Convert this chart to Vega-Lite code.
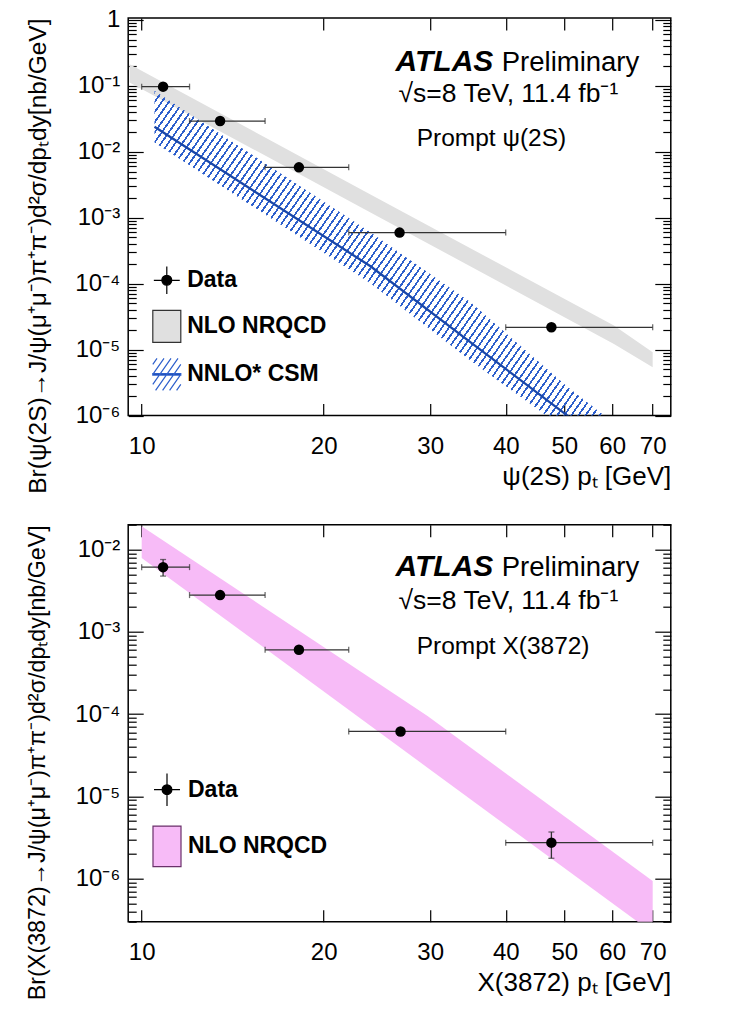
{
  "$schema": "https://vega.github.io/schema/vega-lite/v6.json",
  "background": "white",
  "padding": {"left": 24.2, "top": 6, "right": 10, "bottom": 5},
  "config": {
    "font": "Liberation Sans",
    "view": {"stroke": "black", "strokeWidth": 1.5},
    "axis": {"labelFont": "Liberation Sans", "titleFont": "Liberation Sans", "labelColor": "black", "titleColor": "black", "tickColor": "black", "domain": false, "grid": false}
  },
  "datasets": {
    "psi_data": [
      {"pt": 10.85, "lo": 10, "hi": 12, "y": 0.0966, "series": "Data"},
      {"pt": 13.48, "lo": 12, "hi": 16, "y": 0.0291, "series": "Data"},
      {"pt": 18.2, "lo": 16, "hi": 22, "y": 0.00578, "series": "Data"},
      {"pt": 26.7, "lo": 22, "hi": 40, "y": 0.000593, "series": "Data"},
      {"pt": 47.6, "lo": 40, "hi": 70, "y": 0.0000218, "series": "Data"}
    ],
    "psi_nrqcd": [
      {"pt": 9.55, "lo": 0.112, "hi": 0.212},
      {"pt": 23.9, "lo": 0.0012, "hi": 0.00225},
      {"pt": 60.4, "lo": 0.0000122, "hi": 0.0000231},
      {"pt": 70, "lo": 0.0000054, "hi": 0.0000091}
    ],
    "psi_csm": [
      {"pt": 10.5, "lo": 0.0138, "mid": 0.0239, "hi": 0.084},
      {"pt": 23.9, "lo": 0.000101, "mid": 0.000183, "hi": 0.000598},
      {"pt": 35.0, "lo": 0.0000068, "mid": 0.0000129, "hi": 0.000052},
      {"pt": 50.6, "lo": 0.00000059, "mid": 0.000001, "hi": 0.00000273},
      {"pt": 58.2, "lo": 0.00000023, "mid": 0.00000038, "hi": 0.000001}
    ],
    "x_data": [
      {"pt": 10.85, "lo": 10, "hi": 12, "y": 0.0061, "ylo": 0.00475, "yhi": 0.00755, "series": "Data"},
      {"pt": 13.48, "lo": 12, "hi": 16, "y": 0.00279, "ylo": 0.0026, "yhi": 0.003, "series": "Data"},
      {"pt": 18.2, "lo": 16, "hi": 22, "y": 0.000604, "ylo": 0.00057, "yhi": 0.00064, "series": "Data"},
      {"pt": 26.8, "lo": 22, "hi": 40, "y": 0.0000615, "ylo": 0.000058, "yhi": 0.000065, "series": "Data"},
      {"pt": 47.6, "lo": 40, "hi": 70, "y": 0.00000274, "ylo": 0.00000177, "yhi": 0.00000369, "series": "Data"}
    ],
    "x_nrqcd": [
      {"pt": 10, "lo": 0.0079, "hi": 0.0192},
      {"pt": 29.7, "lo": 0.0000223, "hi": 0.0000946},
      {"pt": 70, "lo": 0.00000022, "hi": 0.00000094}
    ]
  },
  "spacing": 108.7,
  "bounds": "flush",
  "resolve": {"scale": {"shape": "independent", "fill": "independent", "stroke": "independent"}, "legend": {"shape": "independent", "fill": "independent", "stroke": "independent"}},
  "vconcat": [
    {
      "width": 542.6,
      "height": 397.6,
      "resolve": {"axis": {"x": "independent", "y": "independent"}},
      "layer": [
        {
          "data": {"name": "psi_nrqcd"},
          "mark": {"type": "area", "fill": "#e0e0e0", "clip": true},
          "encoding": {
            "x": {"field": "pt", "type": "quantitative", "scale": {"type": "log", "domain": [9.5, 75], "nice": false},
              "axis": {"orient": "bottom", "values": [10, 20, 30, 40, 50, 60, 70], "labelExpr": "format(datum.value, 'd')", "tickSize": -12, "tickWidth": 1.2, "labelFontSize": 24, "labelPadding": 31, "labelOverlap": false, "labelFlush": false, "title": "ψ(2S) pₜ [GeV]", "titleFontSize": 26, "titleFontWeight": "normal", "titleAnchor": "end", "titlePadding": 5}},
            "y": {"field": "lo", "type": "quantitative", "scale": {"type": "log", "domain": [0.000001, 1.06], "nice": false},
              "axis": {"orient": "left", "values": [0.000001,0.000002,0.000003,0.000004,0.000005,0.000006,0.000007,0.000008,0.000009,0.00001,0.00002,0.00003,0.00004,0.00005,0.00006,0.00007,0.00008,0.00009,0.0001,0.0002,0.0003,0.0004,0.0005,0.0006,0.0007,0.0008,0.0009,0.001,0.002,0.003,0.004,0.005,0.006,0.007,0.008,0.009,0.01,0.02,0.03,0.04,0.05,0.06,0.07,0.08,0.09,0.1,0.2,0.3,0.4,0.5,0.6,0.7,0.8,0.9,1],
                "labelExpr": "abs(log(datum.value)/LN10 - round(log(datum.value)/LN10)) < 0.01 ? ['1','10⁻¹','10⁻²','10⁻³','10⁻⁴','10⁻⁵','10⁻⁶','10⁻⁷'][-round(log(datum.value)/LN10)] : ''",
                "tickSize": {"condition": {"test": "abs(log(datum.value)/LN10 - round(log(datum.value)/LN10)) < 0.01", "value": -15}, "value": -8},
                "tickWidth": 1.2, "labelFontSize": 24, "labelPadding": 23.4, "labelOverlap": false, "labelFlush": false,
                "title": "Br(ψ(2S)→J/ψ(μ⁺μ⁻)π⁺π⁻)d²σ/dpₜdy[nb/GeV]", "titleFontSize": 24.5, "titleFontWeight": "normal", "titleAnchor": "end", "titlePadding": 24}},
            "y2": {"field": "hi"}
          }
        },
        {
          "data": {"name": "psi_csm"},
          "mark": {"type": "area", "clip": true, "fill": {"gradient": "linear", "x1": 0, "y1": 0, "x2": 1.1846, "y2": 0.6771, "stops": [
{"offset":0,"color":"transparent"},{"offset":0,"color":"#2d5fcc"},{"offset":0.003,"color":"#2d5fcc"},{"offset":0.003,"color":"transparent"},
{"offset":0.01,"color":"transparent"},{"offset":0.01,"color":"#2d5fcc"},{"offset":0.013,"color":"#2d5fcc"},{"offset":0.013,"color":"transparent"},
{"offset":0.02,"color":"transparent"},{"offset":0.02,"color":"#2d5fcc"},{"offset":0.023,"color":"#2d5fcc"},{"offset":0.023,"color":"transparent"},
{"offset":0.03,"color":"transparent"},{"offset":0.03,"color":"#2d5fcc"},{"offset":0.033,"color":"#2d5fcc"},{"offset":0.033,"color":"transparent"},
{"offset":0.04,"color":"transparent"},{"offset":0.04,"color":"#2d5fcc"},{"offset":0.043,"color":"#2d5fcc"},{"offset":0.043,"color":"transparent"},
{"offset":0.05,"color":"transparent"},{"offset":0.05,"color":"#2d5fcc"},{"offset":0.053,"color":"#2d5fcc"},{"offset":0.053,"color":"transparent"},
{"offset":0.06,"color":"transparent"},{"offset":0.06,"color":"#2d5fcc"},{"offset":0.063,"color":"#2d5fcc"},{"offset":0.063,"color":"transparent"},
{"offset":0.07,"color":"transparent"},{"offset":0.07,"color":"#2d5fcc"},{"offset":0.073,"color":"#2d5fcc"},{"offset":0.073,"color":"transparent"},
{"offset":0.08,"color":"transparent"},{"offset":0.08,"color":"#2d5fcc"},{"offset":0.083,"color":"#2d5fcc"},{"offset":0.083,"color":"transparent"},
{"offset":0.09,"color":"transparent"},{"offset":0.09,"color":"#2d5fcc"},{"offset":0.093,"color":"#2d5fcc"},{"offset":0.093,"color":"transparent"},
{"offset":0.10,"color":"transparent"},{"offset":0.10,"color":"#2d5fcc"},{"offset":0.103,"color":"#2d5fcc"},{"offset":0.103,"color":"transparent"},
{"offset":0.11,"color":"transparent"},{"offset":0.11,"color":"#2d5fcc"},{"offset":0.113,"color":"#2d5fcc"},{"offset":0.113,"color":"transparent"},
{"offset":0.12,"color":"transparent"},{"offset":0.12,"color":"#2d5fcc"},{"offset":0.123,"color":"#2d5fcc"},{"offset":0.123,"color":"transparent"},
{"offset":0.13,"color":"transparent"},{"offset":0.13,"color":"#2d5fcc"},{"offset":0.133,"color":"#2d5fcc"},{"offset":0.133,"color":"transparent"},
{"offset":0.14,"color":"transparent"},{"offset":0.14,"color":"#2d5fcc"},{"offset":0.143,"color":"#2d5fcc"},{"offset":0.143,"color":"transparent"},
{"offset":0.15,"color":"transparent"},{"offset":0.15,"color":"#2d5fcc"},{"offset":0.153,"color":"#2d5fcc"},{"offset":0.153,"color":"transparent"},
{"offset":0.16,"color":"transparent"},{"offset":0.16,"color":"#2d5fcc"},{"offset":0.163,"color":"#2d5fcc"},{"offset":0.163,"color":"transparent"},
{"offset":0.17,"color":"transparent"},{"offset":0.17,"color":"#2d5fcc"},{"offset":0.173,"color":"#2d5fcc"},{"offset":0.173,"color":"transparent"},
{"offset":0.18,"color":"transparent"},{"offset":0.18,"color":"#2d5fcc"},{"offset":0.183,"color":"#2d5fcc"},{"offset":0.183,"color":"transparent"},
{"offset":0.19,"color":"transparent"},{"offset":0.19,"color":"#2d5fcc"},{"offset":0.193,"color":"#2d5fcc"},{"offset":0.193,"color":"transparent"},
{"offset":0.20,"color":"transparent"},{"offset":0.20,"color":"#2d5fcc"},{"offset":0.203,"color":"#2d5fcc"},{"offset":0.203,"color":"transparent"},
{"offset":0.21,"color":"transparent"},{"offset":0.21,"color":"#2d5fcc"},{"offset":0.213,"color":"#2d5fcc"},{"offset":0.213,"color":"transparent"},
{"offset":0.22,"color":"transparent"},{"offset":0.22,"color":"#2d5fcc"},{"offset":0.223,"color":"#2d5fcc"},{"offset":0.223,"color":"transparent"},
{"offset":0.23,"color":"transparent"},{"offset":0.23,"color":"#2d5fcc"},{"offset":0.233,"color":"#2d5fcc"},{"offset":0.233,"color":"transparent"},
{"offset":0.24,"color":"transparent"},{"offset":0.24,"color":"#2d5fcc"},{"offset":0.243,"color":"#2d5fcc"},{"offset":0.243,"color":"transparent"},
{"offset":0.25,"color":"transparent"},{"offset":0.25,"color":"#2d5fcc"},{"offset":0.253,"color":"#2d5fcc"},{"offset":0.253,"color":"transparent"},
{"offset":0.26,"color":"transparent"},{"offset":0.26,"color":"#2d5fcc"},{"offset":0.263,"color":"#2d5fcc"},{"offset":0.263,"color":"transparent"},
{"offset":0.27,"color":"transparent"},{"offset":0.27,"color":"#2d5fcc"},{"offset":0.273,"color":"#2d5fcc"},{"offset":0.273,"color":"transparent"},
{"offset":0.28,"color":"transparent"},{"offset":0.28,"color":"#2d5fcc"},{"offset":0.283,"color":"#2d5fcc"},{"offset":0.283,"color":"transparent"},
{"offset":0.29,"color":"transparent"},{"offset":0.29,"color":"#2d5fcc"},{"offset":0.293,"color":"#2d5fcc"},{"offset":0.293,"color":"transparent"},
{"offset":0.30,"color":"transparent"},{"offset":0.30,"color":"#2d5fcc"},{"offset":0.303,"color":"#2d5fcc"},{"offset":0.303,"color":"transparent"},
{"offset":0.31,"color":"transparent"},{"offset":0.31,"color":"#2d5fcc"},{"offset":0.313,"color":"#2d5fcc"},{"offset":0.313,"color":"transparent"},
{"offset":0.32,"color":"transparent"},{"offset":0.32,"color":"#2d5fcc"},{"offset":0.323,"color":"#2d5fcc"},{"offset":0.323,"color":"transparent"},
{"offset":0.33,"color":"transparent"},{"offset":0.33,"color":"#2d5fcc"},{"offset":0.333,"color":"#2d5fcc"},{"offset":0.333,"color":"transparent"},
{"offset":0.34,"color":"transparent"},{"offset":0.34,"color":"#2d5fcc"},{"offset":0.343,"color":"#2d5fcc"},{"offset":0.343,"color":"transparent"},
{"offset":0.35,"color":"transparent"},{"offset":0.35,"color":"#2d5fcc"},{"offset":0.353,"color":"#2d5fcc"},{"offset":0.353,"color":"transparent"},
{"offset":0.36,"color":"transparent"},{"offset":0.36,"color":"#2d5fcc"},{"offset":0.363,"color":"#2d5fcc"},{"offset":0.363,"color":"transparent"},
{"offset":0.37,"color":"transparent"},{"offset":0.37,"color":"#2d5fcc"},{"offset":0.373,"color":"#2d5fcc"},{"offset":0.373,"color":"transparent"},
{"offset":0.38,"color":"transparent"},{"offset":0.38,"color":"#2d5fcc"},{"offset":0.383,"color":"#2d5fcc"},{"offset":0.383,"color":"transparent"},
{"offset":0.39,"color":"transparent"},{"offset":0.39,"color":"#2d5fcc"},{"offset":0.393,"color":"#2d5fcc"},{"offset":0.393,"color":"transparent"},
{"offset":0.40,"color":"transparent"},{"offset":0.40,"color":"#2d5fcc"},{"offset":0.403,"color":"#2d5fcc"},{"offset":0.403,"color":"transparent"},
{"offset":0.41,"color":"transparent"},{"offset":0.41,"color":"#2d5fcc"},{"offset":0.413,"color":"#2d5fcc"},{"offset":0.413,"color":"transparent"},
{"offset":0.42,"color":"transparent"},{"offset":0.42,"color":"#2d5fcc"},{"offset":0.423,"color":"#2d5fcc"},{"offset":0.423,"color":"transparent"},
{"offset":0.43,"color":"transparent"},{"offset":0.43,"color":"#2d5fcc"},{"offset":0.433,"color":"#2d5fcc"},{"offset":0.433,"color":"transparent"},
{"offset":0.44,"color":"transparent"},{"offset":0.44,"color":"#2d5fcc"},{"offset":0.443,"color":"#2d5fcc"},{"offset":0.443,"color":"transparent"},
{"offset":0.45,"color":"transparent"},{"offset":0.45,"color":"#2d5fcc"},{"offset":0.453,"color":"#2d5fcc"},{"offset":0.453,"color":"transparent"},
{"offset":0.46,"color":"transparent"},{"offset":0.46,"color":"#2d5fcc"},{"offset":0.463,"color":"#2d5fcc"},{"offset":0.463,"color":"transparent"},
{"offset":0.47,"color":"transparent"},{"offset":0.47,"color":"#2d5fcc"},{"offset":0.473,"color":"#2d5fcc"},{"offset":0.473,"color":"transparent"},
{"offset":0.48,"color":"transparent"},{"offset":0.48,"color":"#2d5fcc"},{"offset":0.483,"color":"#2d5fcc"},{"offset":0.483,"color":"transparent"},
{"offset":0.49,"color":"transparent"},{"offset":0.49,"color":"#2d5fcc"},{"offset":0.493,"color":"#2d5fcc"},{"offset":0.493,"color":"transparent"},
{"offset":0.50,"color":"transparent"},{"offset":0.50,"color":"#2d5fcc"},{"offset":0.503,"color":"#2d5fcc"},{"offset":0.503,"color":"transparent"},
{"offset":0.51,"color":"transparent"},{"offset":0.51,"color":"#2d5fcc"},{"offset":0.513,"color":"#2d5fcc"},{"offset":0.513,"color":"transparent"},
{"offset":0.52,"color":"transparent"},{"offset":0.52,"color":"#2d5fcc"},{"offset":0.523,"color":"#2d5fcc"},{"offset":0.523,"color":"transparent"},
{"offset":0.53,"color":"transparent"},{"offset":0.53,"color":"#2d5fcc"},{"offset":0.533,"color":"#2d5fcc"},{"offset":0.533,"color":"transparent"},
{"offset":0.54,"color":"transparent"},{"offset":0.54,"color":"#2d5fcc"},{"offset":0.543,"color":"#2d5fcc"},{"offset":0.543,"color":"transparent"},
{"offset":0.55,"color":"transparent"},{"offset":0.55,"color":"#2d5fcc"},{"offset":0.553,"color":"#2d5fcc"},{"offset":0.553,"color":"transparent"},
{"offset":0.56,"color":"transparent"},{"offset":0.56,"color":"#2d5fcc"},{"offset":0.563,"color":"#2d5fcc"},{"offset":0.563,"color":"transparent"},
{"offset":0.57,"color":"transparent"},{"offset":0.57,"color":"#2d5fcc"},{"offset":0.573,"color":"#2d5fcc"},{"offset":0.573,"color":"transparent"},
{"offset":0.58,"color":"transparent"},{"offset":0.58,"color":"#2d5fcc"},{"offset":0.583,"color":"#2d5fcc"},{"offset":0.583,"color":"transparent"},
{"offset":0.59,"color":"transparent"},{"offset":0.59,"color":"#2d5fcc"},{"offset":0.593,"color":"#2d5fcc"},{"offset":0.593,"color":"transparent"},
{"offset":0.60,"color":"transparent"},{"offset":0.60,"color":"#2d5fcc"},{"offset":0.603,"color":"#2d5fcc"},{"offset":0.603,"color":"transparent"},
{"offset":0.61,"color":"transparent"},{"offset":0.61,"color":"#2d5fcc"},{"offset":0.613,"color":"#2d5fcc"},{"offset":0.613,"color":"transparent"},
{"offset":0.62,"color":"transparent"},{"offset":0.62,"color":"#2d5fcc"},{"offset":0.623,"color":"#2d5fcc"},{"offset":0.623,"color":"transparent"},
{"offset":0.63,"color":"transparent"},{"offset":0.63,"color":"#2d5fcc"},{"offset":0.633,"color":"#2d5fcc"},{"offset":0.633,"color":"transparent"},
{"offset":0.64,"color":"transparent"},{"offset":0.64,"color":"#2d5fcc"},{"offset":0.643,"color":"#2d5fcc"},{"offset":0.643,"color":"transparent"},
{"offset":0.65,"color":"transparent"},{"offset":0.65,"color":"#2d5fcc"},{"offset":0.653,"color":"#2d5fcc"},{"offset":0.653,"color":"transparent"},
{"offset":0.66,"color":"transparent"},{"offset":0.66,"color":"#2d5fcc"},{"offset":0.663,"color":"#2d5fcc"},{"offset":0.663,"color":"transparent"},
{"offset":0.67,"color":"transparent"},{"offset":0.67,"color":"#2d5fcc"},{"offset":0.673,"color":"#2d5fcc"},{"offset":0.673,"color":"transparent"},
{"offset":0.68,"color":"transparent"},{"offset":0.68,"color":"#2d5fcc"},{"offset":0.683,"color":"#2d5fcc"},{"offset":0.683,"color":"transparent"},
{"offset":0.69,"color":"transparent"},{"offset":0.69,"color":"#2d5fcc"},{"offset":0.693,"color":"#2d5fcc"},{"offset":0.693,"color":"transparent"},
{"offset":0.70,"color":"transparent"},{"offset":0.70,"color":"#2d5fcc"},{"offset":0.703,"color":"#2d5fcc"},{"offset":0.703,"color":"transparent"},
{"offset":0.71,"color":"transparent"},{"offset":0.71,"color":"#2d5fcc"},{"offset":0.713,"color":"#2d5fcc"},{"offset":0.713,"color":"transparent"},
{"offset":0.72,"color":"transparent"},{"offset":0.72,"color":"#2d5fcc"},{"offset":0.723,"color":"#2d5fcc"},{"offset":0.723,"color":"transparent"},
{"offset":0.73,"color":"transparent"},{"offset":0.73,"color":"#2d5fcc"},{"offset":0.733,"color":"#2d5fcc"},{"offset":0.733,"color":"transparent"},
{"offset":0.74,"color":"transparent"},{"offset":0.74,"color":"#2d5fcc"},{"offset":0.743,"color":"#2d5fcc"},{"offset":0.743,"color":"transparent"},
{"offset":0.75,"color":"transparent"},{"offset":0.75,"color":"#2d5fcc"},{"offset":0.753,"color":"#2d5fcc"},{"offset":0.753,"color":"transparent"},
{"offset":0.76,"color":"transparent"},{"offset":0.76,"color":"#2d5fcc"},{"offset":0.763,"color":"#2d5fcc"},{"offset":0.763,"color":"transparent"},
{"offset":0.77,"color":"transparent"},{"offset":0.77,"color":"#2d5fcc"},{"offset":0.773,"color":"#2d5fcc"},{"offset":0.773,"color":"transparent"},
{"offset":0.78,"color":"transparent"},{"offset":0.78,"color":"#2d5fcc"},{"offset":0.783,"color":"#2d5fcc"},{"offset":0.783,"color":"transparent"},
{"offset":0.79,"color":"transparent"},{"offset":0.79,"color":"#2d5fcc"},{"offset":0.793,"color":"#2d5fcc"},{"offset":0.793,"color":"transparent"},
{"offset":0.80,"color":"transparent"},{"offset":0.80,"color":"#2d5fcc"},{"offset":0.803,"color":"#2d5fcc"},{"offset":0.803,"color":"transparent"},
{"offset":0.81,"color":"transparent"},{"offset":0.81,"color":"#2d5fcc"},{"offset":0.813,"color":"#2d5fcc"},{"offset":0.813,"color":"transparent"},
{"offset":0.82,"color":"transparent"},{"offset":0.82,"color":"#2d5fcc"},{"offset":0.823,"color":"#2d5fcc"},{"offset":0.823,"color":"transparent"},
{"offset":0.83,"color":"transparent"},{"offset":0.83,"color":"#2d5fcc"},{"offset":0.833,"color":"#2d5fcc"},{"offset":0.833,"color":"transparent"},
{"offset":0.84,"color":"transparent"},{"offset":0.84,"color":"#2d5fcc"},{"offset":0.843,"color":"#2d5fcc"},{"offset":0.843,"color":"transparent"},
{"offset":0.85,"color":"transparent"},{"offset":0.85,"color":"#2d5fcc"},{"offset":0.853,"color":"#2d5fcc"},{"offset":0.853,"color":"transparent"},
{"offset":0.86,"color":"transparent"},{"offset":0.86,"color":"#2d5fcc"},{"offset":0.863,"color":"#2d5fcc"},{"offset":0.863,"color":"transparent"},
{"offset":0.87,"color":"transparent"},{"offset":0.87,"color":"#2d5fcc"},{"offset":0.873,"color":"#2d5fcc"},{"offset":0.873,"color":"transparent"},
{"offset":0.88,"color":"transparent"},{"offset":0.88,"color":"#2d5fcc"},{"offset":0.883,"color":"#2d5fcc"},{"offset":0.883,"color":"transparent"},
{"offset":0.89,"color":"transparent"},{"offset":0.89,"color":"#2d5fcc"},{"offset":0.893,"color":"#2d5fcc"},{"offset":0.893,"color":"transparent"},
{"offset":0.90,"color":"transparent"},{"offset":0.90,"color":"#2d5fcc"},{"offset":0.903,"color":"#2d5fcc"},{"offset":0.903,"color":"transparent"},
{"offset":0.91,"color":"transparent"},{"offset":0.91,"color":"#2d5fcc"},{"offset":0.913,"color":"#2d5fcc"},{"offset":0.913,"color":"transparent"},
{"offset":0.92,"color":"transparent"},{"offset":0.92,"color":"#2d5fcc"},{"offset":0.923,"color":"#2d5fcc"},{"offset":0.923,"color":"transparent"},
{"offset":0.93,"color":"transparent"},{"offset":0.93,"color":"#2d5fcc"},{"offset":0.933,"color":"#2d5fcc"},{"offset":0.933,"color":"transparent"},
{"offset":0.94,"color":"transparent"},{"offset":0.94,"color":"#2d5fcc"},{"offset":0.943,"color":"#2d5fcc"},{"offset":0.943,"color":"transparent"},
{"offset":0.95,"color":"transparent"},{"offset":0.95,"color":"#2d5fcc"},{"offset":0.953,"color":"#2d5fcc"},{"offset":0.953,"color":"transparent"},
{"offset":0.96,"color":"transparent"},{"offset":0.96,"color":"#2d5fcc"},{"offset":0.963,"color":"#2d5fcc"},{"offset":0.963,"color":"transparent"},
{"offset":0.97,"color":"transparent"},{"offset":0.97,"color":"#2d5fcc"},{"offset":0.973,"color":"#2d5fcc"},{"offset":0.973,"color":"transparent"},
{"offset":0.98,"color":"transparent"},{"offset":0.98,"color":"#2d5fcc"},{"offset":0.983,"color":"#2d5fcc"},{"offset":0.983,"color":"transparent"},
{"offset":0.99,"color":"transparent"},{"offset":0.99,"color":"#2d5fcc"},{"offset":0.993,"color":"#2d5fcc"},{"offset":0.993,"color":"transparent"}
          ]}},
          "encoding": {
            "x": {"field": "pt", "type": "quantitative", "scale": {"type": "log", "domain": [9.5, 75], "nice": false}, "axis": null},
            "y": {"field": "lo", "type": "quantitative", "scale": {"type": "log", "domain": [0.000001, 1.06], "nice": false}, "axis": null},
            "y2": {"field": "hi"}
          }
        },
        {
          "data": {"name": "psi_csm"},
          "mark": {"type": "line", "color": "#1a47a8", "strokeWidth": 2.3, "clip": true},
          "encoding": {
            "x": {"field": "pt", "type": "quantitative", "scale": {"type": "log", "domain": [9.5, 75], "nice": false}, "axis": null},
            "y": {"field": "mid", "type": "quantitative", "scale": {"type": "log", "domain": [0.000001, 1.06], "nice": false}, "axis": null}
          }
        },
        {
          "data": {"name": "psi_data"},
          "mark": {"type": "rule", "color": "#333333", "strokeWidth": 1.3},
          "encoding": {
            "x": {"field": "lo", "type": "quantitative", "scale": {"type": "log", "domain": [9.5, 75], "nice": false}, "axis": null},
            "x2": {"field": "hi"},
            "y": {"field": "y", "type": "quantitative", "scale": {"type": "log", "domain": [0.000001, 1.06], "nice": false}, "axis": null}
          }
        },
        {
          "data": {"name": "psi_data"},
          "mark": {"type": "tick", "orient": "vertical", "size": 6, "thickness": 1.3, "color": "#333333"},
          "encoding": {
            "x": {"field": "lo", "type": "quantitative", "scale": {"type": "log", "domain": [9.5, 75], "nice": false}, "axis": null},
            "y": {"field": "y", "type": "quantitative", "scale": {"type": "log", "domain": [0.000001, 1.06], "nice": false}, "axis": null}
          }
        },
        {
          "data": {"name": "psi_data"},
          "mark": {"type": "tick", "orient": "vertical", "size": 6, "thickness": 1.3, "color": "#333333"},
          "encoding": {
            "x": {"field": "hi", "type": "quantitative", "scale": {"type": "log", "domain": [9.5, 75], "nice": false}, "axis": null},
            "y": {"field": "y", "type": "quantitative", "scale": {"type": "log", "domain": [0.000001, 1.06], "nice": false}, "axis": null}
          }
        },
        {
          "data": {"name": "psi_data"},
          "mark": {"type": "point", "shape": "circle", "filled": true, "color": "black", "size": 110, "opacity": 1},
          "encoding": {
            "x": {"field": "pt", "type": "quantitative", "scale": {"type": "log", "domain": [9.5, 75], "nice": false},
              "axis": {"orient": "top", "values": [10, 20, 30, 40, 50, 60, 70], "labels": false, "tickSize": -12, "tickWidth": 1.2, "title": null}},
            "y": {"field": "y", "type": "quantitative", "scale": {"type": "log", "domain": [0.000001, 1.06], "nice": false},
              "axis": {"orient": "right", "labels": false, "title": null, "tickWidth": 1.2,
                "values": [0.000001,0.000002,0.000003,0.000004,0.000005,0.000006,0.000007,0.000008,0.000009,0.00001,0.00002,0.00003,0.00004,0.00005,0.00006,0.00007,0.00008,0.00009,0.0001,0.0002,0.0003,0.0004,0.0005,0.0006,0.0007,0.0008,0.0009,0.001,0.002,0.003,0.004,0.005,0.006,0.007,0.008,0.009,0.01,0.02,0.03,0.04,0.05,0.06,0.07,0.08,0.09,0.1,0.2,0.3,0.4,0.5,0.6,0.7,0.8,0.9,1],
                "tickSize": {"condition": {"test": "abs(log(datum.value)/LN10 - round(log(datum.value)/LN10)) < 0.01", "value": -16}, "value": -8}}}
          }
        },
        {
          "data": {"values": []},
          "mark": {"type": "point", "filled": true, "size": 1024, "strokeWidth": 1.2, "opacity": 1},
          "encoding": {
            "shape": {"field": "series", "type": "nominal",
              "scale": {"domain": ["Data", "NLO NRQCD", "NNLO* CSM"], "range": ["M-0.31,0A0.31,0.31,0,1,1,0.31,0A0.31,0.31,0,1,1,-0.31,0ZM-0.81,0H0.81M0,-0.86V0.86", "M-0.875,-1H0.875V1H-0.875Z", "M0.7,-1L-0.7,1M0.875,-0.625L-0.2625,1M0.875,0L0.175,1M0.875,0.625L0.6125,1M0.2625,-1L-0.875,0.625M-0.175,-1L-0.875,0M-0.6125,-1L-0.875,-0.625M-0.875,-0.05H0.875V0.05H-0.875Z"]},
              "legend": {"orient": "none", "legendX": 21.6, "legendY": 245.3, "title": null, "padding": 0, "symbolSize": 1024, "symbolStrokeWidth": 1.2, "rowPadding": 10, "labelOffset": 3.4, "labelFont": "Liberation Sans", "labelFontSize": 23, "labelFontWeight": "bold", "labelColor": "black", "labelLimit": 400}},
            "fill": {"field": "series", "type": "nominal",
              "scale": {"domain": ["Data", "NLO NRQCD", "NNLO* CSM"], "range": ["black", "#e0e0e0", "#1a47a8"]},
              "legend": {"orient": "none", "legendX": 21.6, "legendY": 245.3, "title": null, "padding": 0, "symbolSize": 1024, "symbolStrokeWidth": 1.2, "rowPadding": 10, "labelOffset": 3.4, "labelFont": "Liberation Sans", "labelFontSize": 23, "labelFontWeight": "bold", "labelColor": "black", "labelLimit": 400}},
            "stroke": {"field": "series", "type": "nominal",
              "scale": {"domain": ["Data", "NLO NRQCD", "NNLO* CSM"], "range": ["black", "#333333", "#2d5fcc"]},
              "legend": {"orient": "none", "legendX": 21.6, "legendY": 245.3, "title": null, "padding": 0, "symbolSize": 1024, "symbolStrokeWidth": 1.2, "rowPadding": 10, "labelOffset": 3.4, "labelFont": "Liberation Sans", "labelFontSize": 23, "labelFontWeight": "bold", "labelColor": "black", "labelLimit": 400}}
          }
        },
        {
          "data": {"values": [{}]},
          "mark": {"type": "text", "text": "ATLAS", "font": "Liberation Sans", "fontSize": 30, "fontWeight": "bold", "fontStyle": "italic", "align": "left", "baseline": "alphabetic", "color": "black"},
          "encoding": {
            "x": {"datum": 26.3, "type": "quantitative", "scale": {"type": "log", "domain": [9.5, 75], "nice": false}, "axis": null},
            "y": {"datum": 0.165, "type": "quantitative", "scale": {"type": "log", "domain": [0.000001, 1.06], "nice": false}, "axis": null}
          }
        },
        {
          "data": {"values": [{}]},
          "mark": {"type": "text", "text": "Preliminary", "font": "Liberation Sans", "fontSize": 27.5, "align": "left", "baseline": "alphabetic", "color": "black"},
          "encoding": {
            "x": {"datum": 39.4, "type": "quantitative", "scale": {"type": "log", "domain": [9.5, 75], "nice": false}, "axis": null},
            "y": {"datum": 0.165, "type": "quantitative", "scale": {"type": "log", "domain": [0.000001, 1.06], "nice": false}, "axis": null}
          }
        },
        {
          "data": {"values": [{}]},
          "mark": {"type": "text", "text": "√s=8 TeV, 11.4 fb⁻¹", "font": "Liberation Sans", "fontSize": 26.5, "align": "left", "baseline": "alphabetic", "color": "black"},
          "encoding": {
            "x": {"datum": 26.6, "type": "quantitative", "scale": {"type": "log", "domain": [9.5, 75], "nice": false}, "axis": null},
            "y": {"datum": 0.0558, "type": "quantitative", "scale": {"type": "log", "domain": [0.000001, 1.06], "nice": false}, "axis": null}
          }
        },
        {
          "data": {"values": [{}]},
          "mark": {"type": "text", "text": "Prompt ψ(2S)", "font": "Liberation Sans", "fontSize": 24.5, "align": "left", "baseline": "alphabetic", "color": "black"},
          "encoding": {
            "x": {"datum": 28.5, "type": "quantitative", "scale": {"type": "log", "domain": [9.5, 75], "nice": false}, "axis": null},
            "y": {"datum": 0.01233, "type": "quantitative", "scale": {"type": "log", "domain": [0.000001, 1.06], "nice": false}, "axis": null}
          }
        }
      ]
    },
    {
      "width": 542.6,
      "height": 397,
      "resolve": {"axis": {"x": "independent", "y": "independent"}},
      "layer": [
        {
          "data": {"name": "x_nrqcd"},
          "mark": {"type": "area", "fill": "#f7bbf7", "clip": true},
          "encoding": {
            "x": {"field": "pt", "type": "quantitative", "scale": {"type": "log", "domain": [9.5, 75], "nice": false},
              "axis": {"orient": "bottom", "values": [10, 20, 30, 40, 50, 60, 70], "labelExpr": "format(datum.value, 'd')", "tickSize": -12, "tickWidth": 1.2, "labelFontSize": 24, "labelPadding": 31, "labelOverlap": false, "labelFlush": false, "title": "X(3872) pₜ [GeV]", "titleFontSize": 26, "titleFontWeight": "normal", "titleAnchor": "end", "titlePadding": 5}},
            "y": {"field": "lo", "type": "quantitative", "scale": {"type": "log", "domain": [0.0000003, 0.02], "nice": false},
              "axis": {"orient": "left", "values": [0.0000003,0.0000004,0.0000005,0.0000006,0.0000007,0.0000008,0.0000009,0.000001,0.000002,0.000003,0.000004,0.000005,0.000006,0.000007,0.000008,0.000009,0.00001,0.00002,0.00003,0.00004,0.00005,0.00006,0.00007,0.00008,0.00009,0.0001,0.0002,0.0003,0.0004,0.0005,0.0006,0.0007,0.0008,0.0009,0.001,0.002,0.003,0.004,0.005,0.006,0.007,0.008,0.009,0.01,0.02],
                "labelExpr": "abs(log(datum.value)/LN10 - round(log(datum.value)/LN10)) < 0.01 ? ['1','10⁻¹','10⁻²','10⁻³','10⁻⁴','10⁻⁵','10⁻⁶','10⁻⁷'][-round(log(datum.value)/LN10)] : ''",
                "tickSize": {"condition": {"test": "abs(log(datum.value)/LN10 - round(log(datum.value)/LN10)) < 0.01", "value": -15}, "value": -8},
                "tickWidth": 1.2, "labelFontSize": 24, "labelPadding": 23.4, "labelOverlap": false, "labelFlush": false,
                "title": "Br(X(3872)→J/ψ(μ⁺μ⁻)π⁺π⁻)d²σ/dpₜdy[nb/GeV]", "titleFontSize": 23.3, "titleFontWeight": "normal", "titleAnchor": "end", "titlePadding": 25}},
            "y2": {"field": "hi"}
          }
        },
        {
          "data": {"name": "x_data"},
          "mark": {"type": "rule", "color": "#333333", "strokeWidth": 1.3},
          "encoding": {
            "x": {"field": "lo", "type": "quantitative", "scale": {"type": "log", "domain": [9.5, 75], "nice": false}, "axis": null},
            "x2": {"field": "hi"},
            "y": {"field": "y", "type": "quantitative", "scale": {"type": "log", "domain": [0.0000003, 0.02], "nice": false}, "axis": null}
          }
        },
        {
          "data": {"name": "x_data"},
          "mark": {"type": "rule", "color": "#333333", "strokeWidth": 1.3},
          "encoding": {
            "x": {"field": "pt", "type": "quantitative", "scale": {"type": "log", "domain": [9.5, 75], "nice": false}, "axis": null},
            "y": {"field": "ylo", "type": "quantitative", "scale": {"type": "log", "domain": [0.0000003, 0.02], "nice": false}, "axis": null},
            "y2": {"field": "yhi"}
          }
        },
        {
          "data": {"name": "x_data"},
          "mark": {"type": "tick", "orient": "vertical", "size": 6, "thickness": 1.3, "color": "#333333"},
          "encoding": {
            "x": {"field": "lo", "type": "quantitative", "scale": {"type": "log", "domain": [9.5, 75], "nice": false}, "axis": null},
            "y": {"field": "y", "type": "quantitative", "scale": {"type": "log", "domain": [0.0000003, 0.02], "nice": false}, "axis": null}
          }
        },
        {
          "data": {"name": "x_data"},
          "mark": {"type": "tick", "orient": "vertical", "size": 6, "thickness": 1.3, "color": "#333333"},
          "encoding": {
            "x": {"field": "hi", "type": "quantitative", "scale": {"type": "log", "domain": [9.5, 75], "nice": false}, "axis": null},
            "y": {"field": "y", "type": "quantitative", "scale": {"type": "log", "domain": [0.0000003, 0.02], "nice": false}, "axis": null}
          }
        },
        {
          "data": {"name": "x_data"},
          "mark": {"type": "tick", "orient": "horizontal", "size": 6, "thickness": 1.3, "color": "#333333"},
          "encoding": {
            "x": {"field": "pt", "type": "quantitative", "scale": {"type": "log", "domain": [9.5, 75], "nice": false}, "axis": null},
            "y": {"field": "ylo", "type": "quantitative", "scale": {"type": "log", "domain": [0.0000003, 0.02], "nice": false}, "axis": null}
          }
        },
        {
          "data": {"name": "x_data"},
          "mark": {"type": "tick", "orient": "horizontal", "size": 6, "thickness": 1.3, "color": "#333333"},
          "encoding": {
            "x": {"field": "pt", "type": "quantitative", "scale": {"type": "log", "domain": [9.5, 75], "nice": false}, "axis": null},
            "y": {"field": "yhi", "type": "quantitative", "scale": {"type": "log", "domain": [0.0000003, 0.02], "nice": false}, "axis": null}
          }
        },
        {
          "data": {"name": "x_data"},
          "mark": {"type": "point", "shape": "circle", "filled": true, "color": "black", "size": 110, "opacity": 1},
          "encoding": {
            "x": {"field": "pt", "type": "quantitative", "scale": {"type": "log", "domain": [9.5, 75], "nice": false},
              "axis": {"orient": "top", "values": [10, 20, 30, 40, 50, 60, 70], "labels": false, "tickSize": -12, "tickWidth": 1.2, "title": null}},
            "y": {"field": "y", "type": "quantitative", "scale": {"type": "log", "domain": [0.0000003, 0.02], "nice": false},
              "axis": {"orient": "right", "labels": false, "title": null, "tickWidth": 1.2,
                "values": [0.0000003,0.0000004,0.0000005,0.0000006,0.0000007,0.0000008,0.0000009,0.000001,0.000002,0.000003,0.000004,0.000005,0.000006,0.000007,0.000008,0.000009,0.00001,0.00002,0.00003,0.00004,0.00005,0.00006,0.00007,0.00008,0.00009,0.0001,0.0002,0.0003,0.0004,0.0005,0.0006,0.0007,0.0008,0.0009,0.001,0.002,0.003,0.004,0.005,0.006,0.007,0.008,0.009,0.01,0.02],
                "tickSize": {"condition": {"test": "abs(log(datum.value)/LN10 - round(log(datum.value)/LN10)) < 0.01", "value": -16}, "value": -8}}}
          }
        },
        {
          "data": {"values": []},
          "mark": {"type": "point", "filled": true, "size": 1648, "strokeWidth": 1.2, "opacity": 1},
          "encoding": {
            "shape": {"field": "series", "type": "nominal",
              "scale": {"domain": ["Data", "NLO NRQCD"], "range": ["M-0.24,0A0.24,0.24,0,1,1,0.24,0A0.24,0.24,0,1,1,-0.24,0ZM-0.64,0H0.64M0,-0.8V0.8", "M-0.69,-1H0.69V1H-0.69Z"]},
              "legend": {"orient": "none", "legendX": 17.8, "legendY": 244, "title": null, "padding": 0, "symbolSize": 1648, "symbolStrokeWidth": 1.2, "rowPadding": 14.7, "labelOffset": 0, "labelFont": "Liberation Sans", "labelFontSize": 23, "labelFontWeight": "bold", "labelColor": "black", "labelLimit": 400}},
            "fill": {"field": "series", "type": "nominal",
              "scale": {"domain": ["Data", "NLO NRQCD"], "range": ["black", "#f7bbf7"]},
              "legend": {"orient": "none", "legendX": 17.8, "legendY": 244, "title": null, "padding": 0, "symbolSize": 1648, "symbolStrokeWidth": 1.2, "rowPadding": 14.7, "labelOffset": 0, "labelFont": "Liberation Sans", "labelFontSize": 23, "labelFontWeight": "bold", "labelColor": "black", "labelLimit": 400}},
            "stroke": {"field": "series", "type": "nominal",
              "scale": {"domain": ["Data", "NLO NRQCD"], "range": ["black", "#6a306a"]},
              "legend": {"orient": "none", "legendX": 17.8, "legendY": 244, "title": null, "padding": 0, "symbolSize": 1648, "symbolStrokeWidth": 1.2, "rowPadding": 14.7, "labelOffset": 0, "labelFont": "Liberation Sans", "labelFontSize": 23, "labelFontWeight": "bold", "labelColor": "black", "labelLimit": 400}}
          }
        },
        {
          "data": {"values": [{}]},
          "mark": {"type": "text", "text": "ATLAS", "font": "Liberation Sans", "fontSize": 30, "fontWeight": "bold", "fontStyle": "italic", "align": "left", "baseline": "alphabetic", "color": "black"},
          "encoding": {
            "x": {"datum": 26.3, "type": "quantitative", "scale": {"type": "log", "domain": [9.5, 75], "nice": false}, "axis": null},
            "y": {"datum": 0.00479, "type": "quantitative", "scale": {"type": "log", "domain": [0.0000003, 0.02], "nice": false}, "axis": null}
          }
        },
        {
          "data": {"values": [{}]},
          "mark": {"type": "text", "text": "Preliminary", "font": "Liberation Sans", "fontSize": 27.5, "align": "left", "baseline": "alphabetic", "color": "black"},
          "encoding": {
            "x": {"datum": 39.4, "type": "quantitative", "scale": {"type": "log", "domain": [9.5, 75], "nice": false}, "axis": null},
            "y": {"datum": 0.00479, "type": "quantitative", "scale": {"type": "log", "domain": [0.0000003, 0.02], "nice": false}, "axis": null}
          }
        },
        {
          "data": {"values": [{}]},
          "mark": {"type": "text", "text": "√s=8 TeV, 11.4 fb⁻¹", "font": "Liberation Sans", "fontSize": 26.5, "align": "left", "baseline": "alphabetic", "color": "black"},
          "encoding": {
            "x": {"datum": 26.6, "type": "quantitative", "scale": {"type": "log", "domain": [9.5, 75], "nice": false}, "axis": null},
            "y": {"datum": 0.00187, "type": "quantitative", "scale": {"type": "log", "domain": [0.0000003, 0.02], "nice": false}, "axis": null}
          }
        },
        {
          "data": {"values": [{}]},
          "mark": {"type": "text", "text": "Prompt X(3872)", "font": "Liberation Sans", "fontSize": 24.5, "align": "left", "baseline": "alphabetic", "color": "black"},
          "encoding": {
            "x": {"datum": 28.5, "type": "quantitative", "scale": {"type": "log", "domain": [9.5, 75], "nice": false}, "axis": null},
            "y": {"datum": 0.00053, "type": "quantitative", "scale": {"type": "log", "domain": [0.0000003, 0.02], "nice": false}, "axis": null}
          }
        }
      ]
    }
  ]
}
